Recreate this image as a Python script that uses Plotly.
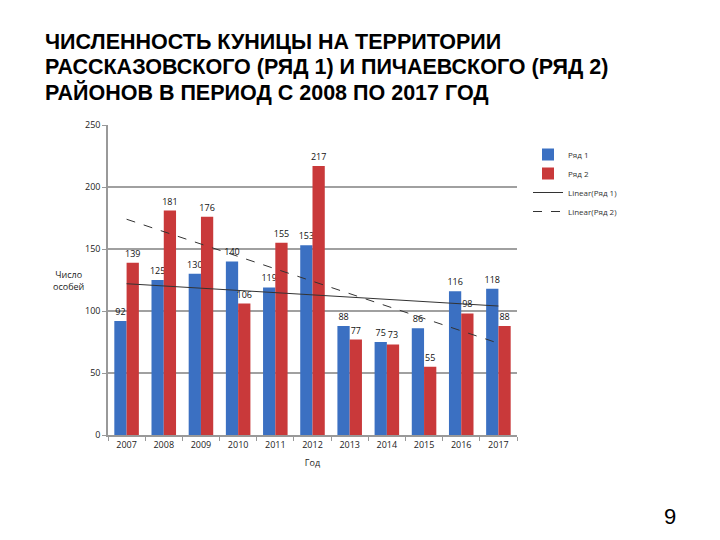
import plotly.graph_objects as go

years = ["2007", "2008", "2009", "2010", "2011", "2012", "2013", "2014", "2015", "2016", "2017"]
row1 = [92, 125, 130, 140, 119, 153, 88, 75, 86, 116, 118]
row2 = [139, 181, 176, 106, 155, 217, 77, 73, 55, 98, 88]

# linear trend end points
trend_x = ["2007", "2017"]
trend1 = [122, 104]
trend2 = [174, 74]

title_lines = ["ЧИСЛЕННОСТЬ КУНИЦЫ НА ТЕРРИТОРИИ",
               "РАССКАЗОВСКОГО (РЯД 1) И ПИЧАЕВСКОГО (РЯД 2)",
               "РАЙОНОВ В ПЕРИОД С 2008 ПО 2017 ГОД"]

blue = '#3b70c2'
red = '#c9393a'
font_family = 'Open Sans, Liberation Sans, sans-serif'
title_font = 'Liberation Sans, Arial, sans-serif'

# page body adds an 8px offset, so the figure is laid out 8px up and left
L, T, W, H = 100, 117, 409, 310


def px_x(x):
    return (x - L) / W


def px_y(y):
    return 1 - (y - T) / H


fig = go.Figure()
fig.add_trace(go.Bar(x=years, y=row1, name='Ряд 1',
                     marker=dict(color=blue, line=dict(width=0)),
                     text=row1, textposition='outside', constraintext='none',
                     textfont=dict(size=9, color='#111'), cliponaxis=False))
fig.add_trace(go.Bar(x=years, y=row2, name='Ряд 2',
                     marker=dict(color=red, line=dict(width=0)),
                     text=row2, textposition='outside', constraintext='none',
                     textfont=dict(size=9, color='#111'), cliponaxis=False))
fig.add_trace(go.Scatter(x=trend_x, y=trend1, mode='lines', name='Linear(Ряд 1)',
                         line=dict(color='#333', width=1)))
fig.add_trace(go.Scatter(x=trend_x, y=trend2, mode='lines', name='Linear(Ряд 2)',
                         line=dict(color='#333', width=1, dash='dash')))

annotations = []
for i, line in enumerate(title_lines):
    annotations.append(dict(text='<b>' + line + '</b>', xref='paper', yref='paper',
                            x=px_x(35), y=px_y(34 + 25 * i), xanchor='left', yanchor='middle',
                            showarrow=False,
                            font=dict(family=title_font, size=21.5, color='black')))
annotations.append(dict(text='Число<br>особей', xref='paper', yref='paper',
                        x=px_x(60), y=px_y(272), xanchor='center', yanchor='middle',
                        showarrow=False, font=dict(size=9, color='#222')))
annotations.append(dict(text='9', xref='paper', yref='paper', x=px_x(662), y=px_y(509),
                        xanchor='center', yanchor='middle', showarrow=False,
                        font=dict(family=title_font, size=22, color='black')))

fig.update_layout(
    width=720, height=540,
    paper_bgcolor='white', plot_bgcolor='white',
    margin=dict(l=L, r=720 - L - W, t=T, b=540 - T - H),
    font=dict(family=font_family, size=9, color='#333'),
    bargap=0.34, bargroupgap=0,
    legend=dict(x=px_x(520), y=px_y(132), xanchor='left', yanchor='top',
                font=dict(size=8, color='#333'), tracegroupgap=0,
                bgcolor='rgba(0,0,0,0)'),
    xaxis=dict(type='category', showline=True, linecolor='#999', linewidth=1.5,
               ticks='outside', tickson='boundaries', ticklen=4, tickcolor='#999',
               tickfont=dict(size=9, color='#222'), showgrid=False,
               title=dict(text='Год', font=dict(size=9, color='#222'), standoff=10)),
    yaxis=dict(range=[0, 250], dtick=50, showline=True, linecolor='#999', linewidth=1.5,
               ticks='outside', ticklen=4, tickcolor='#999',
               showgrid=True, gridcolor='#a0a0a0', gridwidth=1.5,
               tickfont=dict(size=9, color='#222'), zeroline=False),
    annotations=annotations,
)

fig.write_html("out.html")
